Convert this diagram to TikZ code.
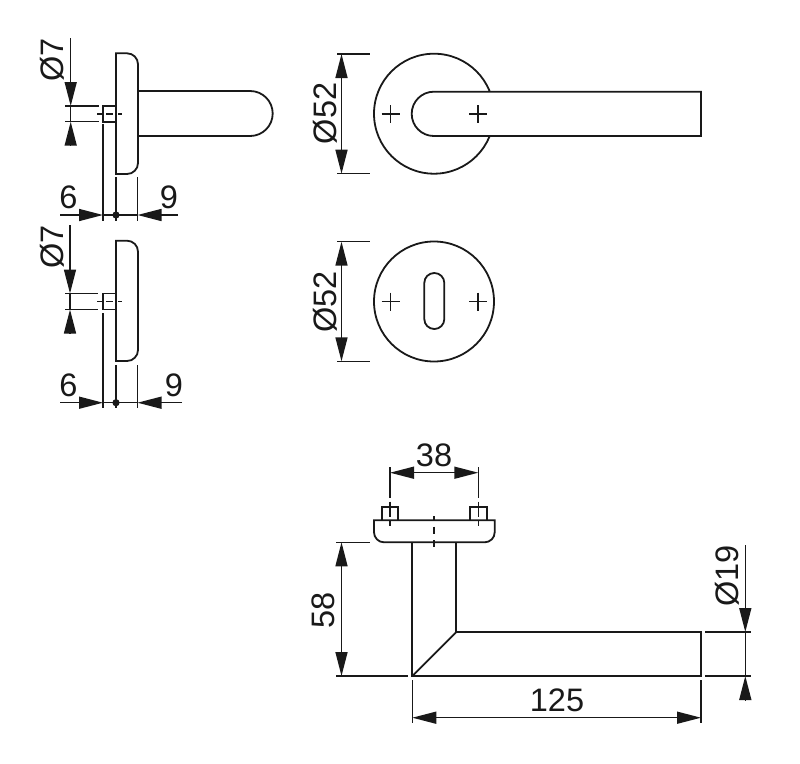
\documentclass[tikz,border=0pt]{standalone}
\usepackage{fontspec}
\setmainfont{Liberation Sans}
\usetikzlibrary{arrows.meta}
\tikzset{
  part/.style={line width=1.8pt,draw=black!90,line join=miter},
  dim/.style={line width=1.5pt,draw=black!90},
  tip/.style={dim,-{Triangle[length=24pt,width=12pt]}},
  cross/.style={line width=1.5pt,draw=black!90},
  label/.style={font=\fontsize{32.5}{32.5}\selectfont,text=black!90,inner sep=0pt},
  vlabel/.style={label,rotate=90}
}
\newcommand{\plusmark}[2]{\draw[cross] (#1-9,#2)--(#1+9,#2) (#1,#2-9)--(#1,#2+9);}
\begin{document}
\begin{tikzpicture}[x=1pt,y=-1pt]
\useasboundingbox (0,0) rectangle (800,763);
% ---- side view 1
\draw[part] (116,53.3) -- (127,53.3) .. controls (133.1,53.3) and (138,58.2) .. (138,64.3) -- (138,163) .. controls (138,169.1) and (133.1,174) .. (127,174) -- (116,174) -- cycle;
\draw[part] (138,91) -- (250.2,91) .. controls (262.6,91) and (272.7,101.1) .. (272.7,113.5) .. controls (272.7,125.9) and (262.6,136) .. (250.2,136) -- (138,136);
\draw[line width=2.6pt,draw=black!90] (138,91)--(138,136);
\draw[part] (116,106)--(103,106)--(103,121.7)--(116,121.7);
\draw[dim,dash pattern=on 5pt off 4pt on 7pt off 5pt on 4pt] (97,114)--(122,114);
\draw[dim] (65,106)--(99,106) (65,121.7)--(99,121.7);
\draw[tip] (70.7,38)--(70.7,106);
\draw[tip] (70.7,145)--(70.7,121.7);
\draw[dim] (70.7,106)--(70.7,121.7);
\node[vlabel] (d7a) at (52,60) {Ø7};
\draw[dim] (103,124)--(103,221) (116,177)--(116,221) (137.5,177)--(137.5,221);
\draw[tip] (60,215)--(103,215);
\draw[tip] (178,215)--(137.5,215);
\draw[dim] (103,215)--(137.5,215);
\fill[black!90] (116,215) circle (3.6pt);
\node[label] (six1) at (68.5,197) {6};
\node[label] (nine1) at (169,197) {9};
% ---- side view 2
\draw[part] (116,240.7) -- (127,240.7) .. controls (133.1,240.7) and (138,245.6) .. (138,251.7) -- (138,350) .. controls (138,356.1) and (133.1,361) .. (127,361) -- (116,361) -- cycle;
\draw[part] (116,293.5)--(103,293.5)--(103,309.5)--(116,309.5);
\draw[dim,dash pattern=on 5pt off 4pt on 7pt off 5pt on 4pt] (97,301.5)--(122,301.5);
\draw[dim] (65,293.5)--(98,293.5) (65,309.5)--(98,309.5);
\draw[tip] (70,225)--(70,293.5);
\draw[tip] (70,333)--(70,309.5);
\draw[dim] (70,293.5)--(70,309.5);
\node[vlabel] (d7b) at (52,247) {Ø7};
\draw[dim] (103,313)--(103,408) (116,365)--(116,408) (137.5,365)--(137.5,408);
\draw[tip] (60,402.7)--(103,402.7);
\draw[tip] (182,402.7)--(137.5,402.7);
\draw[dim] (103,402.7)--(137.5,402.7);
\fill[black!90] (116,402.7) circle (3.6pt);
\node[label] (six2) at (68.5,385) {6};
\node[label] (nine2) at (174,385) {9};
% ---- front view with lever
\draw[part] (434,113.7) circle (60pt);
\draw[part,fill=white] (701,91.7) -- (433.8,91.7) .. controls (421.6,91.7) and (411.7,101.6) .. (411.7,113.85) .. controls (411.7,126.1) and (421.6,136) .. (433.8,136) -- (701,136) -- cycle;
\plusmark{390.7}{114}
\plusmark{478}{114}
\draw[dim] (337,54)--(370,54) (337,173.7)--(370,173.7);
\draw[tip] (341.5,113.7)--(341.5,54);
\draw[tip] (341.5,113.7)--(341.5,173.7);
\node[vlabel] (d52a) at (325,113.5) {Ø52};
% ---- rosette
\draw[part] (434,301.5) circle (60pt);
\draw[part,rounded corners=9.9pt] (424.3,273) rectangle (444.3,329);
\plusmark{390.7}{301.5}
\plusmark{478}{301.5}
\draw[dim] (337,241.7)--(370,241.7) (337,361.3)--(370,361.3);
\draw[tip] (341.5,301.5)--(341.5,241.7);
\draw[tip] (341.5,301.5)--(341.5,361.3);
\node[vlabel] (d52b) at (325,301.7) {Ø52};
% ---- bottom view
\draw[part] (374,520.3) -- (374,532.3) .. controls (374,537.8) and (378.5,542.3) .. (384,542.3) -- (484.7,542.3) .. controls (490.2,542.3) and (494.7,537.8) .. (494.7,532.3) -- (494.7,520.3) -- cycle;
\draw[part] (382,520.3)--(382,507)--(398,507)--(398,520.3);
\draw[part] (470.3,520.3)--(470.3,507)--(486.7,507)--(486.7,520.3);
\draw[dim,dash pattern=on 4.3pt off 2pt on 9pt off 3pt on 6pt] (390,501.7)--(390,526);
\draw[dim,dash pattern=on 4.3pt off 2pt on 9pt off 3pt on 6pt] (478.3,501.7)--(478.3,526);
\draw[dim,dash pattern=on 4.7pt off 6pt on 7.6pt off 5.7pt on 7.3pt] (434,516)--(434,547.3);
\draw[dim] (390,467)--(390,498) (478.3,467)--(478.3,498);
\draw[tip] (434,472.7)--(390,472.7);
\draw[tip] (434,472.7)--(478.3,472.7);
\node[label] (w38) at (434,455) {38};
\draw[part] (412.3,542.3)--(412.3,676)--(701,676)--(701,632)--(456.3,632)--(456.3,542.3);
\draw[part] (412.3,676)--(456.3,632);
% dim 58
\draw[dim] (336,542.3)--(370,542.3) (336,676)--(408,676);
\draw[tip] (341.5,610)--(341.5,542.3);
\draw[tip] (341.5,610)--(341.5,676);
\node[vlabel] (h58) at (323,610) {58};
% dim 125
\draw[dim] (412.3,680)--(412.3,722.7) (701,680)--(701,722.7);
\draw[tip] (557,717.7)--(412.3,717.7);
\draw[tip] (557,717.7)--(701,717.7);
\node[label] (w125) at (557,700) {125};
% dim 19
\draw[dim] (705,632)--(750.7,632) (705,676)--(750.7,676);
\draw[tip] (745.3,545)--(745.3,632);
\draw[tip] (745.3,700)--(745.3,676);
\draw[dim] (745.3,632)--(745.3,676);
\node[vlabel] (d19) at (727,576) {Ø19};
\end{tikzpicture}
\end{document}
